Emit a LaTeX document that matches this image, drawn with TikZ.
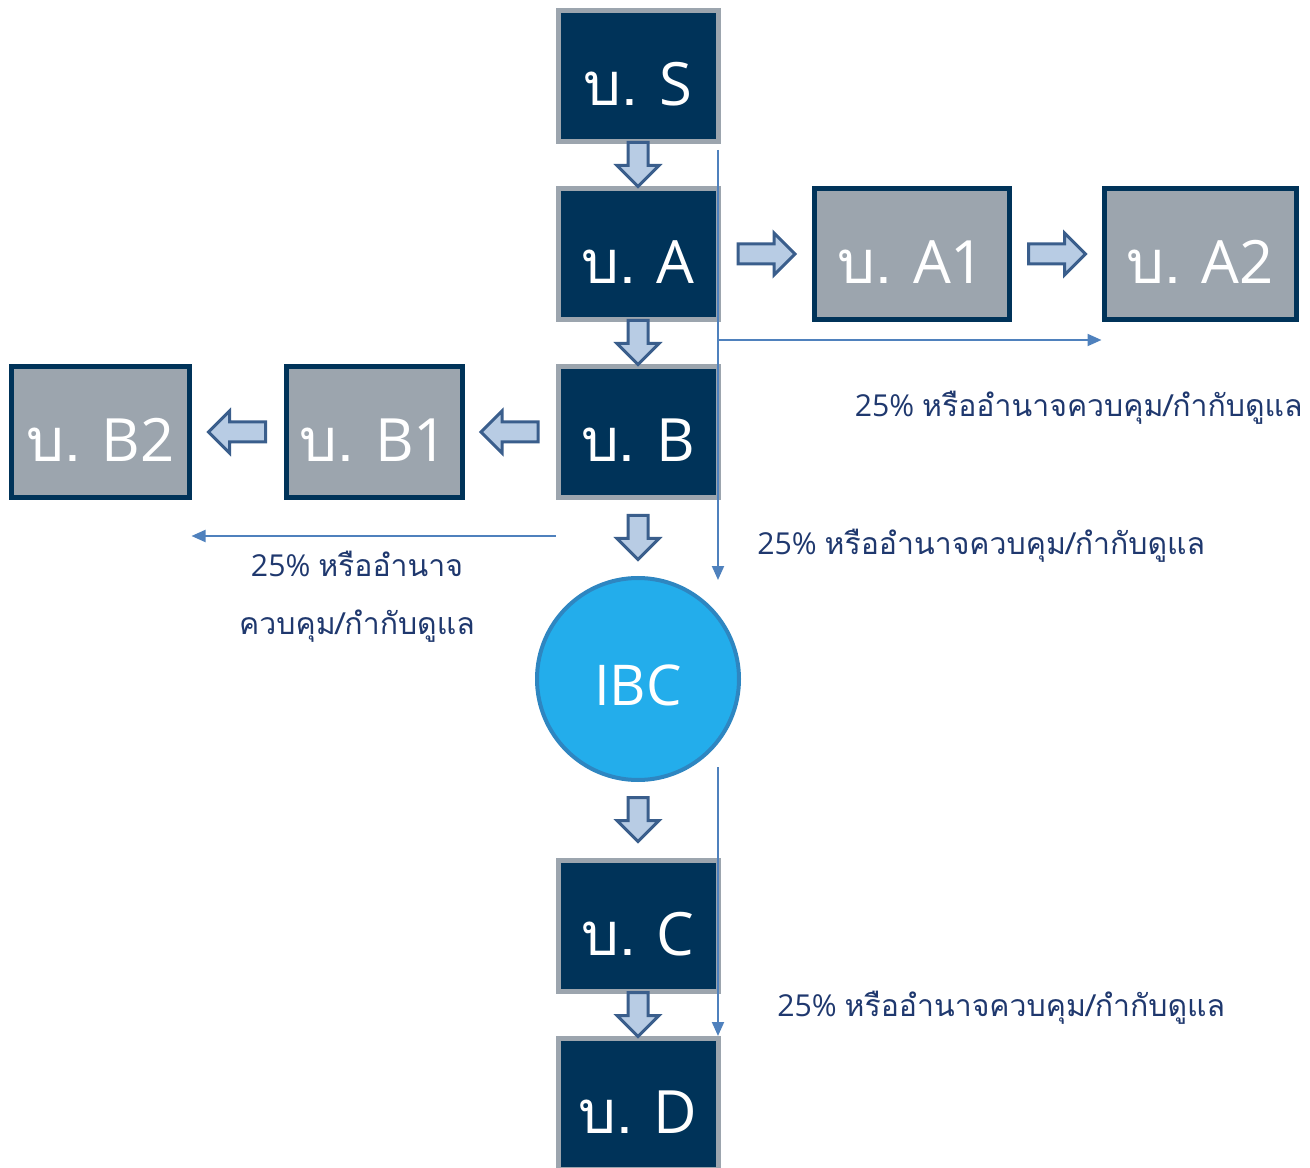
\documentclass[tikz,border=0pt]{standalone}
\usepackage{fontspec}
\setmainfont{Open Sans}
\newfontfamily\thaifont[Script=Thai]{Loma}
\usetikzlibrary{calc}
\usetikzlibrary{arrows.meta}
\usetikzlibrary{shapes.arrows}
\usetikzlibrary{positioning}
\definecolor{Navy-1}{RGB}{0,51,89}
\definecolor{Grey-1}{RGB}{156,165,174}
\definecolor{Blue-1}{RGB}{79,129,189}
\definecolor{Blue-2}{RGB}{184,204,228}
\definecolor{Blue-3}{RGB}{58,94,140}
\definecolor{Sky-1}{RGB}{35,173,235}
\definecolor{Sky-2}{RGB}{46,134,193}
\definecolor{Text-1}{RGB}{31,56,110}

\begin{document}
\begin{tikzpicture}
    \tikzset{ co/.style  ={draw=Grey-1, fill=Navy-1, line width=0.1cm, text=white, minimum width=3.2cm, minimum height=2.62cm, text height=1.18cm, text depth=0pt, font=\fontsize{34}{40}\selectfont} }
    \tikzset{ sub/.style ={draw=Navy-1, fill=Grey-1, line width=0.1cm, text=white, minimum height=2.62cm, text height=1.18cm, text depth=0pt, font=\fontsize{34}{40}\selectfont} }
    \tikzset{ ibc/.style ={circle, draw=Sky-2, fill=Sky-1, line width=0.08cm, minimum size=4.04cm, text=white, text height=1.04cm, text depth=0pt, font=\fontsize{32}{38}\selectfont} }
    \tikzset{ blk/.style ={single arrow, draw=Blue-3, fill=Blue-2, line width=0.06cm, inner xsep=0pt, inner ysep=0.17cm, minimum width=0.78cm, single arrow head extend=0.22cm} }
    \tikzset{ own/.style ={draw=Blue-1, line width=0.04cm, -{Triangle[length=0.28cm, width=0.24cm]}} }
    \tikzset{ pct/.style ={text=Text-1, inner sep=0pt, font=\fontsize{17.2}{33}\selectfont} }

    \useasboundingbox (0,0) rectangle (26.2,-23.36);

    \node[co                               ] (s)   at (12.76,-1.52) {{\thaifont บ.} S};
    \node[co,  below=0.84cm of s           ] (a)                    {{\thaifont บ.} A};
    \node[co,  below=0.84cm of a           ] (b)                    {{\thaifont บ.} B};
    \node[ibc, below=1.52cm of b           ] (ibc)                  {IBC};
    \node[co,  below=1.52cm of ibc         ] (c)                    {{\thaifont บ.} C};
    \node[co,  below=0.84cm of c           ] (d)                    {{\thaifont บ.} D};
    \node[sub, right=1.82cm of a, minimum width=3.9cm ] (a1)        {{\thaifont บ.} A1};
    \node[sub, right=1.80cm of a1, minimum width=3.84cm] (a2)       {{\thaifont บ.} A2};
    \node[sub, left =1.82cm of b, minimum width=3.52cm ] (b1)       {{\thaifont บ.} B1};
    \node[sub, left =1.84cm of b1, minimum width=3.54cm] (b2)       {{\thaifont บ.} B2};

    \node[blk, rotate=-90, xshift=-0.11cm, minimum height=0.88cm] (s_a)   at ($(s.south)!0.5!(a.north)$)     {};
    \node[blk, rotate=-90, xshift=-0.11cm, minimum height=0.88cm] (a_b)   at ($(a.south)!0.5!(b.north)$)     {};
    \node[blk, rotate=-90, xshift=-0.11cm, minimum height=0.88cm] (b_ibc) at ($(b.south)!0.5!(ibc.north)$)   {};
    \node[blk, rotate=-90, xshift=-0.11cm, minimum height=0.88cm] (ibc_c) at ($(ibc.south)!0.5!(c.north)$)   {};
    \node[blk, rotate=-90, xshift=-0.11cm, minimum height=0.88cm] (c_d)   at ($(c.south)!0.5!(d.north)$)     {};
    \node[blk,             xshift=-0.09cm, minimum height=1.14cm] (a_a1)  at ($(a.east)!0.5!(a1.west)$)      {};
    \node[blk,             xshift=-0.09cm, minimum height=1.14cm] (a1_a2) at ($(a1.east)!0.5!(a2.west)$)     {};
    \node[blk, rotate=180, xshift=-0.09cm, minimum height=1.14cm] (b_b1)  at ($(b.west)!0.5!(b1.east)$)      {};
    \node[blk, rotate=180, xshift=-0.09cm, minimum height=1.14cm] (b1_b2) at ($(b1.west)!0.5!(b2.east)$)     {};

    \coordinate (v1) at ($(s.south east)+(-0.05,-0.12)$);
    \coordinate (v1_e) at ($(v1 |- ibc.north)+(0,-0.08)$);
    \coordinate (h1) at ($(v1 |- a.south)+(0,-0.36)$);
    \coordinate (h2) at ($(b.south west)+(0,-0.72)$);
    \coordinate (v2) at ($(v1 |- ibc.south)+(0,0.3)$);

    \draw[own] (v1) -- (v1_e);
    \draw[own] (h1) -- (h1 -| a2.west);
    \draw[own] (h2) -- (h2 -| b2.east);
    \draw[own] (v2) -- (v2 |- d.north);

    \node[pct, anchor=east] (p_a) at (26.06,-8.16)  {25\% {\thaifont หรืออำนาจควบคุม/กำกับดูแล}};
    \node[pct, anchor=west] (p_b) at (15.14,-10.92) {25\% {\thaifont หรืออำนาจควบคุม/กำกับดูแล}};
    \node[pct, align=center] (p_c) at (7.14,-11.94) {25\% {\thaifont หรืออำนาจ}\\{\thaifont ควบคุม/กำกับดูแล}};
    \node[pct, anchor=west] (p_d) at (15.54,-20.16) {25\% {\thaifont หรืออำนาจควบคุม/กำกับดูแล}};
\end{tikzpicture}
\end{document}
